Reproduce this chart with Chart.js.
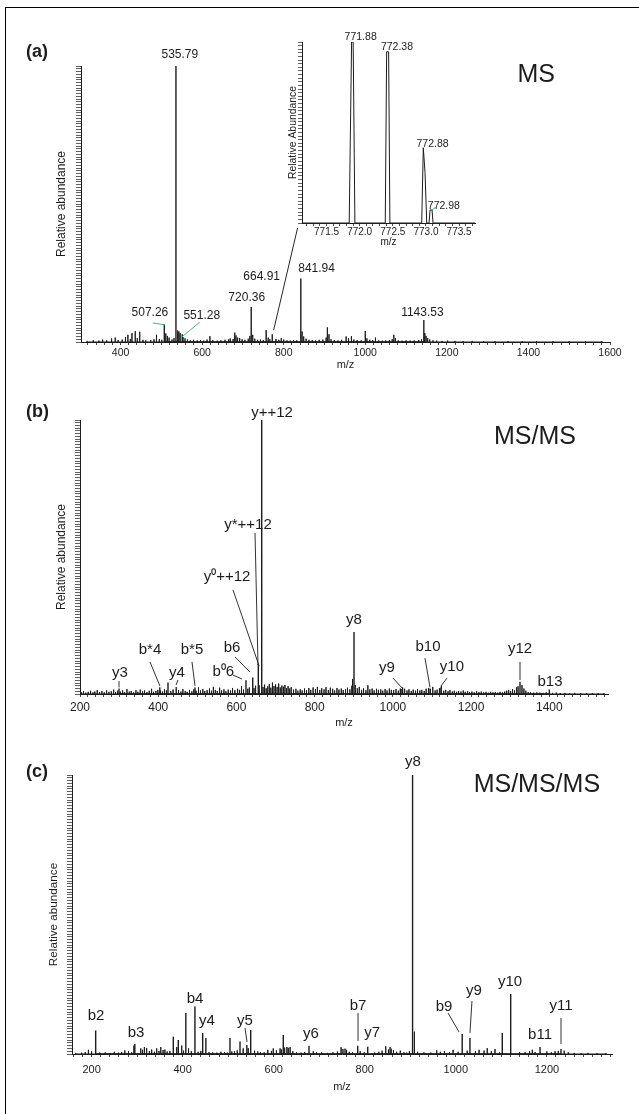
<!DOCTYPE html>
<html>
<head>
<meta charset="utf-8">
<script src="https://cdn.jsdelivr.net/npm/chart.js@4.4.1/dist/chart.umd.min.js"></script>
<style>
  body { margin: 0; background: #fff; }
  #fig { position: relative; width: 639px; height: 1114px; overflow: hidden; }
  #frame { position: absolute; left: 5px; top: 7px; width: 700px; height: 1200px;
           border-left: 1px solid #000; border-top: 1px solid #000; }
  canvas { position: absolute; left: 0; }
</style>
</head>
<body>
<div id="fig">
  <div id="frame"></div>
  <canvas id="specA" width="639" height="380" style="top:0"></canvas>
  <canvas id="specIso" width="230" height="240" style="left:260px;top:20px"></canvas>
  <canvas id="specB" width="639" height="355" style="top:380px"></canvas>
  <canvas id="specC" width="639" height="379" style="top:735px"></canvas>
</div>
<script>
// ---- data: [m/z, relative abundance %] ----

// (a) MS survey scan
const peaksA = [[507.26, 6.4], [535.79, 100], [551.28, 2.8], [664.91, 1.0], [720.36, 12.7],
                [771.88, 2.8], [841.94, 23], [1143.53, 8]];
const noiseA = [[318,0.4],[333,0.6],[347,0.5],[356,0.9],[366,0.6],[378,1.3],[387,1.6],[394,0.7],
  [404,0.9],[412,1.8],[418,2.6],[424,1.1],[428,3.2],[436,3.9],[441,1.4],[447,3.7],[455,0.8],[462,0.6],
  [474,0.7],[482,1.0],[488,2.6],[495,1.1],[501,0.8],[511,3.1],[515,2.2],[519,1.6],[526,0.9],[531,1.4],
  [540,4.2],[543,3.8],[546,3.2],[553,1.8],[558,1.3],[564,0.9],[571,0.6],[579,0.8],[588,0.6],[596,0.7],
  [604,0.5],[612,0.9],[619,2.1],[626,0.7],[637,0.5],[646,0.6],[656,0.8],[669,1.3],[676,1.1],[680,3.4],
  [683,2.4],[687,1.6],[692,1.4],[698,1.0],[705,0.8],[713,1.2],[717,2.2],[724,2.6],[729,1.2],[736,0.8],
  [743,0.9],[750,0.7],[757,4.3],[762,1.6],[766,1.0],[781,1.1],[788,0.8],[794,1.4],[800,0.9],[808,0.6],
  [816,0.5],[824,0.7],[832,0.6],[845,3.8],[849,2.0],[855,1.2],[862,0.8],[870,0.7],[878,0.6],[887,0.8],
  [896,0.9],[904,1.6],[907,5.3],[911,2.8],[916,1.0],[924,0.7],[933,0.6],[942,0.8],[953,2.0],[959,1.4],
  [966,2.1],[972,0.9],[980,0.7],[990,0.6],[1000,4.0],[1004,1.3],[1011,0.8],[1018,0.7],[1025,1.6],
  [1033,0.6],[1042,0.5],[1050,0.6],[1059,0.7],[1066,1.0],[1070,2.6],[1074,1.4],[1081,0.6],[1090,0.5],
  [1100,0.6],[1110,0.5],[1120,0.6],[1131,0.7],[1138,1.0],[1146,3.2],[1149,2.2],[1153,1.4],[1158,0.9],
  [1166,0.6],[1175,0.5],[1188,0.4],[1202,0.5],[1220,0.4],[1240,0.3],[1262,0.4],[1290,0.3],[1318,0.3],
  [1350,0.3],[1385,0.3],[1420,0.3],[1460,0.3],[1500,0.3],[1540,0.3],[1580,0.3]];

// (a) inset: isotope envelope, profile points
const isoProfile = [[771.13,0],[771.842,0],[771.878,100],[771.902,100],[771.928,0],
  [772.386,0],[772.407,94.6],[772.437,94.6],[772.456,0],
  [772.936,0],[772.96,41.6],[772.986,28],[773.012,0],
  [773.047,0],[773.062,7.2],[773.092,7.2],[773.107,0],[773.74,0]];

// (b) MS/MS
const peaksB = [[299.7,2.0],[404,2.5],[425,4.2],[446,2.6],[494,2.4],[624.4,5],[641.6,6],
  [655.9,11],[664.6,100],[900.6,22.6],[1023,1.8],[1095,2.0],[1123,2.4],[1325,4.5],[1400,1.6]];
const noiseB = [[204,0.6],[209,1.0],[215,0.5],[221,0.8],[227,1.2],[233,0.6],[238,0.9],[244,1.4],
  [250,0.7],[256,1.1],[262,0.6],[268,1.3],[274,0.8],[280,1.0],[286,1.6],[291,0.7],[296,1.2],[303,0.9],
  [309,1.3],[314,0.7],[320,1.8],[326,0.9],[331,1.1],[337,0.6],[343,1.4],[348,0.8],[354,1.6],[360,1.0],
  [365,1.3],[371,0.7],[377,1.2],[383,1.9],[388,0.8],[394,1.1],[399,1.5],[406,1.2],[411,0.9],[416,1.7],
  [421,1.3],[432,1.1],[438,1.6],[452,1.4],[458,0.9],[463,1.8],[469,1.1],[474,0.8],[480,1.5],[486,1.0],
  [491,1.7],[497,1.2],[503,2.4],[508,1.3],[514,1.8],[519,1.1],[525,1.4],[531,2.0],[536,1.2],[541,2.6],
  [546,1.5],[551,1.1],[557,2.3],[562,1.3],[568,1.7],[573,1.0],[579,1.6],[585,1.3],[590,2.2],[596,1.4],
  [603,1.9],[608,1.5],[613,2.8],[618,1.6],[629,1.9],[633,2.4],[645,2.1],[649,3.0],[658,3.2],[668,2.6],
  [672,3.4],[676,2.1],[680,2.8],[684,3.6],[688,2.3],[692,4.2],[696,2.9],[700,3.5],[704,2.6],[708,3.8],
  [712,2.4],[716,3.1],[720,2.7],[724,3.3],[728,2.2],[732,2.9],[736,2.0],[740,2.5],[746,1.6],[752,1.9],
  [757,1.2],[763,1.7],[768,1.3],[774,2.0],[779,1.4],[785,2.2],[790,1.5],[796,2.4],[802,1.8],[807,2.6],
  [813,1.5],[818,2.1],[824,1.7],[829,2.5],[835,1.4],[840,2.3],[846,1.9],[851,1.3],[857,2.2],[862,1.6],
  [868,2.0],[873,1.4],[879,1.8],[884,2.3],[890,1.7],[895,3.0],[897,5.5],[904,3.2],[909,2.1],[914,2.6],
  [920,1.5],[925,2.1],[931,1.4],[936,3.2],[941,1.7],[947,2.0],[952,1.3],[958,1.9],[963,1.5],[969,1.7],
  [974,1.2],[980,1.8],[985,1.3],[991,2.0],[996,1.5],[1002,1.4],[1008,1.8],[1014,1.2],[1019,2.0],
  [1025,2.4],[1030,1.9],[1036,1.3],[1041,1.7],[1047,1.1],[1052,1.6],[1058,1.2],[1063,1.8],[1069,1.3],
  [1074,1.5],[1080,1.1],[1085,1.9],[1091,2.2],[1096,1.8],[1102,2.6],[1108,1.3],[1113,1.6],[1119,2.1],
  [1124,3.0],[1130,1.2],[1135,1.5],[1141,1.0],[1146,1.4],[1152,0.9],[1157,1.2],[1163,0.8],[1168,1.1],
  [1174,0.9],[1180,1.3],[1185,0.8],[1191,1.0],[1196,0.7],[1202,0.9],[1208,0.6],[1214,1.0],[1220,0.7],
  [1226,0.9],[1232,0.6],[1238,0.8],[1244,0.5],[1250,0.8],[1256,0.6],[1262,0.7],[1268,0.5],[1274,0.8],
  [1280,0.6],[1286,0.9],[1291,1.2],[1296,1.5],[1301,1.1],[1306,1.8],[1311,1.3],[1316,2.4],[1320,2.8],
  [1330,3.2],[1335,2.0],[1340,1.2],[1346,0.7],[1352,0.6],[1360,0.5],[1368,0.6],[1376,0.5],[1384,0.4],
  [1392,0.6],[1408,0.4],[1418,0.5],[1428,0.3],[1440,0.4],[1452,0.3],[1465,0.4],[1480,0.3],[1495,0.3],
  [1510,0.3],[1525,0.3],[1540,0.3]];

// (c) MS/MS/MS
const peaksC = [[209,8.4],[295,3.6],[379.5,6.2],[390.5,5.0],[407,14.7],[427,17],[444,7.5],[451,5.7],
  [504,5.7],[526,4.5],[541,3.2],[549.5,8.6],[621,6.8],[677.5,3],[756.6,2],[784.5,3],[806.5,2.6],
  [855.5,2.5],[905,100],[1014,7.2],[1031,5.7],[1102,7.5],[1120.5,21.5],[1185,2.5],[1231,1.8]];
const noiseC = [[165,0.4],[178,0.5],[186,0.7],[193,1.5],[200,1.0],[218,0.5],[230,0.6],[241,0.4],
  [250,0.8],[259,0.5],[266,0.7],[273,1.3],[281,1.0],[288,0.6],[293,3.0],[308,2.0],[312,1.5],[316,2.5],
  [321,2.1],[327,1.0],[332,1.6],[338,0.8],[343,2.0],[348,1.1],[352,2.5],[357,1.4],[361,1.6],[366,0.9],
  [372,1.1],[387,2.5],[398,3.0],[402,1.2],[413,2.0],[419,1.0],[434,0.8],[440,1.1],[458,0.7],[466,0.6],
  [475,0.5],[484,0.8],[492,0.6],[498,0.5],[508,0.9],[514,1.0],[520,1.3],[533,2.0],[544,2.1],[558,1.2],
  [565,0.9],[571,0.7],[579,0.6],[587,1.5],[595,1.1],[599,2.0],[606,1.3],[614,2.0],[617,1.6],[624,2.3],
  [629,2.5],[632,2.2],[636,2.5],[642,1.0],[650,0.6],[660,0.5],[668,0.7],[687,1.0],[694,0.6],[705,0.5],
  [718,0.4],[730,0.6],[740,0.9],[748,2.4],[752,1.8],[760,1.5],[766,0.8],[773,0.6],[790,1.0],[799,0.6],
  [822,0.5],[831,0.8],[838,1.2],[846,2.8],[852,1.6],[858,1.9],[863,1.4],[870,0.8],[878,1.2],[886,0.6],
  [892,0.5],[898,1.0],[909,8.0],[916,0.8],[930,0.6],[945,0.5],[958,1.3],[966,0.8],[975,1.1],[986,0.6],
  [994,1.5],[1005,0.8],[1025,1.2],[1043,1.0],[1051,1.5],[1062,1.2],[1069,2.1],[1078,1.0],[1086,1.8],
  [1096,0.6],[1140,0.7],[1152,0.6],[1162,1.0],[1168,1.5],[1174,0.7],[1200,0.9],[1210,0.6],[1218,1.0],
  [1225,1.1],[1238,1.2],[1247,0.6],[1260,0.4],[1275,0.3],[1290,0.4],[1310,0.3],[1330,0.3]];

// tick labels
const xLabelsA = [400, 600, 800, 1000, 1200, 1400, 1600];
const xLabelsB = [200, 400, 600, 800, 1000, 1200, 1400];
const xLabelsC = [200, 400, 600, 800, 1000, 1200];
const xLabelsIso = [771.5, 772.0, 772.5, 773.0, 773.5];

// ---- callouts: text, anchor [m/z, %] ----
const labelsA = [['535.79', 545.3, 104], ['507.26', 471.9, 10.5], ['551.28', 599.1, 9.4],
  ['720.36', 709.3, 15.9], ['664.91', 746, 23.6], ['841.94', 880.6, 26.4], ['1143.53', 1140, 10.5]];
const leadersA = [[479.2, 6.9, 508.6, 6.2, '#35b15a'], [594.2, 7.2, 550.2, 1.8, '#35b15a'],
  [775.3, 4.3, 834, 41.3, '#111']];
const labelsIso = [['771.88', 772.015, 102.8], ['772.38', 772.563, 97.4],
  ['772.88', 773.1, 43.6], ['772.98', 773.27, 9.4]];
const leadersIso = [[773.077, 7.0, 773.15, 8.6, '#35b15a']];
const labelsB = [['y++12', 690.9, 102.6], ['y*++12', 629.6, 61.7], ['y\u2070++12', 575.9, 42.7],
  ['b6', 588.6, 16.8], ['b\u20706', 566.4, 8.1], ['y3', 302.3, 7.7], ['b*4', 379, 16.1],
  ['y4', 448, 7.7], ['b*5', 486.4, 16.1], ['y8', 900.6, 27], ['y9', 985, 9.5], ['b10', 1089.8, 17.2],
  ['y10', 1151, 9.9], ['y12', 1325, 16.4], ['b13', 1401.7, 4.4]];
const leadersB = [[647.5, 58.8, 655.1, 10.6], [591.2, 38, 658, 10.2], [596.3, 13.5, 634.7, 8],
  [591.2, 6.9, 614.2, 5.5], [299.7, 4.7, 299.7, 2.4], [379, 11.7, 404.5, 2.9], [450.6, 5.1, 445.5, 3.3],
  [486.4, 11.7, 494, 3.0], [1000.3, 5.8, 1023.3, 2.2], [1082, 13.1, 1095, 2.4],
  [1138.4, 5.8, 1123, 2.9], [1325, 11.7, 1325, 5.1]];
const labelsC = [['b2', 209.7, 13.6], ['b3', 297.6, 7.5], ['b4', 427.2, 19.7], ['y4', 453.5, 11.8],
  ['y5', 537, 11.8], ['y6', 682, 7.2], ['b7', 785.2, 17.2], ['y7', 816, 7.5], ['y8', 906, 104.7],
  ['b9', 974, 16.8], ['y9', 1040, 22.6], ['y10', 1119, 25.8], ['b11', 1185, 6.8], ['y11', 1231, 17.2]];
const leadersC = [[537, 9.3, 541.4, 4.3], [785.2, 14.7, 785.2, 4.7], [982.8, 14.7, 1007, 7.9],
  [1035.5, 19, 1031, 7.5], [1231, 12.9, 1231, 3.6]];

const FONT = '"Liberation Sans", Arial, Helvetica, sans-serif';
const INK = '#1c1c1c';

// each centroid becomes a vertical stroke rising from the baseline
function sticks(peaks) {
  const pts = [];
  [...peaks].sort((a, b) => a[0] - b[0]).forEach(([m, h]) => {
    pts.push({x: m, y: 0}, {x: m, y: h}, {x: m, y: 0});
  });
  return pts;
}

function stepTicks(from, to, step) {
  const out = [];
  for (let k = 0; from + k * step <= to + 1e-9; k++) out.push(+(from + k * step).toFixed(4));
  return out;
}

// draws peak labels, leader lines, the panel letter and the scan title
const callouts = {
  id: 'callouts',
  afterDraw(chart, args, o) {
    const {ctx, scales: {x, y}} = chart;
    ctx.save();
    (o.leaders || []).forEach(([m1, h1, m2, h2, col]) => {
      ctx.beginPath();
      ctx.strokeStyle = col || INK;
      ctx.lineWidth = 0.9;
      ctx.moveTo(x.getPixelForValue(m1), y.getPixelForValue(h1));
      ctx.lineTo(x.getPixelForValue(m2), y.getPixelForValue(h2));
      ctx.stroke();
    });
    ctx.fillStyle = INK;
    ctx.textAlign = 'center';
    ctx.textBaseline = 'middle';
    ctx.font = o.labelSize + 'px ' + FONT;
    (o.labels || []).forEach(([t, m, h]) => {
      ctx.fillText(t, x.getPixelForValue(m), y.getPixelForValue(h));
    });
    if (o.scan) {
      ctx.font = '25px ' + FONT;
      ctx.fillText(o.scan[0], x.getPixelForValue(o.scan[1]), y.getPixelForValue(o.scan[2]));
    }
    if (o.panel) {
      ctx.font = 'bold 18px ' + FONT;
      ctx.textAlign = 'left';
      ctx.fillText(o.panel[0], o.panel[1], o.panel[2]);
    }
    ctx.restore();
  }
};

function spectrum(id, s) {
  return new Chart(document.getElementById(id), {
    type: 'scatter',
    data: {
      datasets: s.series.map(d => ({
        data: d.data, showLine: true, borderColor: INK, borderWidth: d.width,
        pointRadius: 0, tension: 0, fill: false
      }))
    },
    options: {
      responsive: false,
      animation: false,
      devicePixelRatio: 1,
      events: [],
      layout: {padding: s.pad},
      plugins: {legend: {display: false}, tooltip: {enabled: false}, callouts: s.notes},
      scales: {
        x: {
          type: 'linear', min: s.xMin, max: s.xMax,
          afterBuildTicks: sc => { sc.ticks = s.xTicks.map(v => ({value: v})); },
          afterFit: sc => { sc.height = s.xH; },
          ticks: {
            autoSkip: false, maxRotation: 0, minRotation: 0, padding: s.xPad, color: INK,
            font: {family: FONT, size: s.xFont},
            callback: v => s.xLabels.some(l => Math.abs(l - v) < 1e-6) ? s.fmt(v) : ''
          },
          grid: {drawOnChartArea: false, tickLength: 3, color: INK, tickWidth: 0.8},
          border: {color: INK, width: 1},
          title: {display: true, text: 'm/z', color: INK, padding: 0,
                  font: {family: FONT, size: s.mzFont}}
        },
        y: {
          min: 0, max: 100,
          afterBuildTicks: sc => { sc.ticks = stepTicks(0, 100, s.yStep).map(v => ({value: v})); },
          afterFit: sc => { sc.width = s.yW; },
          ticks: {display: false},
          grid: {drawOnChartArea: false, tickLength: s.yTick, color: INK, tickWidth: 0.7},
          border: {color: INK, width: 1},
          title: {display: true, text: s.yTitle, color: INK, padding: 0,
                  font: {family: FONT, size: s.yFont}}
        }
      }
    },
    plugins: [callouts]
  });
}

spectrum('specA', {
  series: [{data: sticks(noiseA), width: 1}, {data: sticks(peaksA), width: 1.4}],
  xMin: 303, xMax: 1600, xTicks: stepTicks(320, 1600, 20), xLabels: xLabelsA, fmt: v => String(v),
  xFont: 10.5, xPad: 1.7, xH: 29.6, mzFont: 11,
  yStep: 1, yTick: 5, yW: 26.9, yTitle: 'Relative abundance', yFont: 12,
  pad: {left: 54.1, right: 29, top: 66, bottom: 8.4},
  notes: {labels: labelsA, leaders: leadersA, labelSize: 12, scan: ['MS', 1419, 96.7], panel: ['(a)', 26, 52]}
});

spectrum('specIso', {
  series: [{data: isoProfile.map(([m, h]) => ({x: m, y: h})), width: 1}],
  xMin: 771.13, xMax: 773.74, xTicks: stepTicks(771.2, 773.7, 0.1), xLabels: xLabelsIso,
  fmt: v => v.toFixed(1),
  xFont: 10, xPad: 0, xH: 25, mzFont: 10,
  yStep: 2, yTick: 4, yW: 15.24, yTitle: 'Relative Abundance', yFont: 10.4,
  pad: {left: 26.76, right: 15, top: 22, bottom: 12},
  notes: {labels: labelsIso, leaders: leadersIso, labelSize: 10.5}
});

spectrum('specB', {
  series: [{data: sticks(noiseB), width: 1}, {data: sticks(peaksB), width: 1.4}],
  xMin: 200, xMax: 1550, xTicks: stepTicks(200, 1540, 20), xLabels: xLabelsB, fmt: v => String(v),
  xFont: 12, xPad: 3.8, xH: 35.6, mzFont: 11,
  yStep: 1, yTick: 5, yW: 25.9, yTitle: 'Relative abundance', yFont: 12,
  pad: {left: 54.1, right: 31, top: 40, bottom: 5.4},
  notes: {labels: labelsB, leaders: leadersB, labelSize: 15, scan: ['MS/MS', 1363.4, 93.8], panel: ['(b)', 26, 32.5]}
});

spectrum('specC', {
  series: [{data: sticks(noiseC), width: 1}, {data: sticks(peaksC), width: 1.4}],
  xMin: 157, xMax: 1343, xTicks: stepTicks(160, 1340, 20), xLabels: xLabelsC, fmt: v => String(v),
  xFont: 11, xPad: 6.4, xH: 39.6, mzFont: 11,
  yStep: 1, yTick: 5, yW: 25, yTitle: 'Relative abundance', yFont: 11.7,
  pad: {left: 47, right: 27, top: 40, bottom: 20.4},
  notes: {labels: labelsC, leaders: leadersC, labelSize: 15, scan: ['MS/MS/MS', 1178, 96.4], panel: ['(c)', 26, 37.5]}
});
</script>
</body>
</html>
